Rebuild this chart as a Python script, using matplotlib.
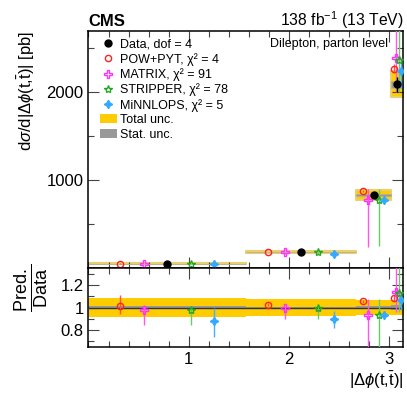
import numpy as np
import matplotlib
matplotlib.use("Agg")
import matplotlib.pyplot as plt
from matplotlib.lines import Line2D
from matplotlib.patches import Patch
from matplotlib.ticker import MultipleLocator

# binning in |dphi(t,tbar)|
bin_edges = [0.0, 1.5708, 2.67, 3.02, 3.1416]

# measured cross section [pb] and relative uncertainties
data_xsec = [52, 183, 830, 2087]
data_err = [0.03, 0.03, 0.03, 0.04]
tot_unc = [0.09, 0.08, 0.065, 0.07]
stat_unc = [0.01, 0.008, 0.012, 0.02]

# predictions as ratio to data, with lower/upper edges of the theory band
pow_ratio = [1.014, 1.027, 1.055, 1.085]
pow_lo = [0.937, 1.015, 1.045, 1.06]
pow_hi = [1.117, 1.04, 1.065, 1.11]

matrix_ratio = [0.976, 1.0, 0.93, 1.14]
matrix_lo = [0.84, 0.90, 0.29, 0.96]
matrix_hi = [1.027, 1.005, 1.078, 1.45]

stripper_ratio = [0.973, 1.0, 0.93, 1.13]
stripper_lo = [0.84, 0.90, 0.30, 0.96]
stripper_hi = [1.014, 1.01, 1.078, 1.45]

minnlo_ratio = [0.877, 0.90, 0.93, 1.07]
minnlo_lo = [0.736, 0.81, 0.92, 0.98]
minnlo_hi = [0.996, 0.967, 0.94, 1.14]

legend_labels = ["Data, dof = 4", "POW+PYT, χ² = 4", "MATRIX, χ² = 91",
                 "STRIPPER, χ² = 78", "MiNNLOPS, χ² = 5",
                 "Total unc.", "Stat. unc."]

plt.rcParams["font.family"] = ["Liberation Sans", "DejaVu Sans"]
plt.rcParams["mathtext.fontset"] = "custom"
plt.rcParams["mathtext.rm"] = "Liberation Sans"
plt.rcParams["mathtext.it"] = "Liberation Sans:italic"
plt.rcParams["mathtext.bf"] = "Liberation Sans:bold"

YELLOW = "#ffcc00"
GREY = "#999999"

edges = np.array(bin_edges)
lo_e, hi_e = edges[:-1], edges[1:]
width = hi_e - lo_e
data = np.array(data_xsec, dtype=float)

models = [
    # ratio, lo, hi, frac in bin, marker, size, marker colour, bar colour, filled
    (pow_ratio, pow_lo, pow_hi, 0.20, "o", 4.5, "#ff2222", "#ff5533", False),
    (matrix_ratio, matrix_lo, matrix_hi, 0.35, "P", 5.5, "#ff33ff", "#ff55ee", False),
    (stripper_ratio, stripper_lo, stripper_hi, 0.65, "*", 6.0, "#22aa22", "#66cc66", False),
    (minnlo_ratio, minnlo_lo, minnlo_hi, 0.80, (4, 1, 0), 6.0, "#33aaff", "#44b0ff", True),
]

fig = plt.figure(figsize=(4.07, 3.94), dpi=100)
ax = fig.add_axes([0.2174, 0.319, 0.774, 0.6023])
rax = fig.add_axes([0.2174, 0.120, 0.774, 0.199], sharex=ax)

# main panel bands; thin outline so small bins stay visible
for i in range(len(lo_e)):
    ax.fill_between([lo_e[i], hi_e[i]], data[i] * (1 - tot_unc[i]), data[i] * (1 + tot_unc[i]),
                    facecolor=YELLOW, edgecolor="#e8cf70", lw=1.5, zorder=1)
    ax.fill_between([lo_e[i], hi_e[i]], data[i] * (1 - stat_unc[i]), data[i] * (1 + stat_unc[i]),
                    facecolor=GREY, edgecolor="#b8b09a", lw=0.6, zorder=2)
    # ratio panel bands
    rax.fill_between([lo_e[i], hi_e[i]], 1 - tot_unc[i], 1 + tot_unc[i],
                     color=YELLOW, lw=0, zorder=1)
    rax.fill_between([lo_e[i], hi_e[i]], 1 - stat_unc[i], 1 + stat_unc[i],
                     color=GREY, lw=0, zorder=2)
rax.axhline(1.0, color="#333333", lw=1.0, zorder=3)

xc = lo_e + 0.5 * width
ax.errorbar(xc, data, yerr=data * np.array(data_err), fmt="o", color="black",
            ms=5, elinewidth=1.0, capsize=0, zorder=6)

for ratio, lo, hi, frac, mk, ms, mc, bc, filled in models:
    r, l, h = np.array(ratio), np.array(lo), np.array(hi)
    x = lo_e + frac * width
    for a, y, yl, yh in ((ax, r * data, l * data, h * data), (rax, r, l, h)):
        a.vlines(x, yl, yh, color=bc, lw=1.0, zorder=4)
        a.plot(x, y, linestyle="none", marker=mk, ms=ms, mec=mc,
               mfc=mc if filled else "none", mew=1.0, zorder=5)

ax.set_xlim(0, np.pi)
ax.set_ylim(0, 2690)
rax.set_ylim(0.645, 1.355)

for a in (ax, rax):
    a.tick_params(which="both", direction="in", top=True, right=True, labelsize=12,
                  width=0.8, color="#444444")
    a.tick_params(which="major", length=8)
    a.tick_params(which="minor", length=4)
    for s in a.spines.values():
        s.set_linewidth(1.1)
    a.xaxis.set_minor_locator(MultipleLocator(0.2))

rax.set_xticks([1, 2, 3])
ax.set_yticks([1000, 2000])
ax.yaxis.set_minor_locator(MultipleLocator(500))
rax.set_yticks([0.8, 1.0, 1.2])
rax.set_yticklabels(["0.8", "1", "1.2"])
rax.yaxis.set_minor_locator(MultipleLocator(0.1))
plt.setp(ax.get_xticklabels(), visible=False)

ax.set_ylabel(r"d$\sigma$/d|$\Delta\phi$(t,$\bar{\mathrm{t}}$)| [pb]", fontsize=12, loc="top")
ax.yaxis.set_label_coords(-0.163, 1.0)
rax.set_ylabel(r"$\frac{\mathrm{Pred.}}{\mathrm{Data}}$", fontsize=18.5)
rax.yaxis.set_label_coords(-0.122, 0.75)
rax.set_xlabel(r"|$\Delta\phi$(t,$\bar{\mathrm{t}}$)|", fontsize=12, loc="right", labelpad=2)

fig.text(0.2174, 0.934, "CMS", fontsize=12, fontweight="bold", ha="left", va="baseline")
fig.text(0.992, 0.934, r"138 fb$^{-1}$ (13 TeV)", fontsize=11.3, ha="right", va="baseline")
ax.text(0.951, 0.945, "Dilepton, parton level", transform=ax.transAxes,
        fontsize=9, ha="right", va="center")

handles = [Line2D([], [], ls="none", marker="o", color="black", ms=5)]
for ratio, lo, hi, frac, mk, ms, mc, bc, filled in models:
    handles.append(Line2D([], [], ls="none", marker=mk, mec=mc,
                          mfc=mc if filled else "none", ms=ms, mew=1.0))
handles.append(Patch(facecolor=YELLOW, edgecolor="none"))
handles.append(Patch(facecolor=GREY, edgecolor="none"))
ax.legend(handles, legend_labels, loc="upper left", bbox_to_anchor=(0.02, 0.99),
          frameon=False, fontsize=9, handlelength=1.36, handletextpad=0.25,
          labelspacing=0.2, borderaxespad=0.0, borderpad=0.4)

fig.savefig("out.png", dpi=100)
